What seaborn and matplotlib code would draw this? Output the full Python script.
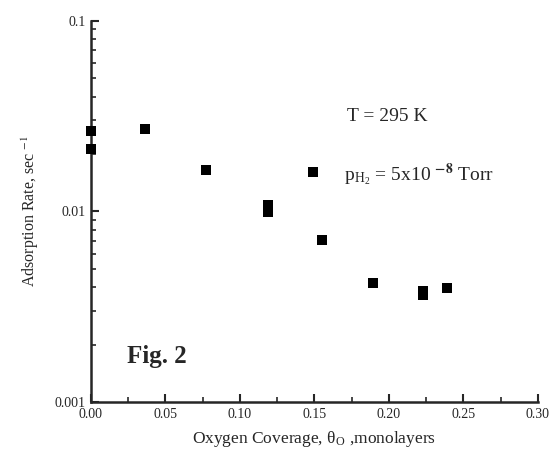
import matplotlib
matplotlib.use("Agg")
import matplotlib.pyplot as plt
import matplotlib.ticker as mticker
import seaborn as sns
import pandas as pd
import numpy as np

# --- Data ---
coverage = [0.000, 0.000, 0.036, 0.077, 0.119, 0.119, 0.149, 0.155, 0.189, 0.223, 0.223, 0.239]
rate = [0.0264, 0.0213, 0.0270, 0.0165, 0.0108, 0.0099, 0.0161, 0.00705, 0.00422, 0.0038, 0.00363, 0.00394]

x_ticks = [0.00, 0.05, 0.10, 0.15, 0.20, 0.25, 0.30]
y_ticks = [0.001, 0.01, 0.1]
y_labels = ["0.001", "0.01", "0.1"]

df = pd.DataFrame({"coverage": coverage, "rate": rate})

sns.set_style("ticks")
plt.rcParams["font.family"] = ["Liberation Serif", "DejaVu Serif"]
plt.rcParams["mathtext.fontset"] = "stix"

fig = plt.figure(figsize=(5.54, 4.53), dpi=100)
ax = fig.add_axes([0.164, 0.1126, 0.807, 0.8417])

sns.scatterplot(data=df, x="coverage", y="rate", marker="s", s=45,
                color="black", edgecolor="black", linewidth=0, ax=ax,
                clip_on=False, zorder=5)

ax.set_yscale("log")
ax.set_xlim(0, 0.30)
ax.set_ylim(0.001, 0.1)

ax.set_xticks(x_ticks)
ax.set_xticklabels([f"{v:.2f}" for v in x_ticks])
ax.xaxis.set_minor_locator(mticker.MultipleLocator(0.025))
ax.set_yticks(y_ticks)
ax.set_yticklabels(y_labels)
ax.yaxis.set_minor_locator(mticker.LogLocator(base=10, subs=np.arange(2, 10)))
ax.yaxis.set_minor_formatter(mticker.NullFormatter())

ax.tick_params(axis="both", which="major", direction="in", length=6, width=1.5,
               labelsize=10)
ax.tick_params(axis="both", which="minor", direction="in", length=3.5, width=1.2)
ax.tick_params(axis="x", pad=4)

sns.despine(ax=ax)
for sp in ["left", "bottom"]:
    ax.spines[sp].set_linewidth(1.8)

ax.set_xlabel(r"Oxygen Coverage, θ$_{\mathregular{O}}$ ,monolayers", fontsize=12.5, labelpad=6)
ax.set_ylabel(r"Adsorption Rate, sec $^{-1}$", fontsize=11.5, labelpad=10)

ax.text(0.172, 0.0314, "T = 295 K", fontsize=14, ha="left", va="center")
ax.text(0.170, 0.0156, r"p$_{\mathregular{H_2}}$ = 5x10 $^{\mathbf{-8}}$ Torr",
        fontsize=14, ha="left", va="center")
ax.text(0.024, 0.00173, "Fig. 2", fontsize=18, fontweight="bold",
        ha="left", va="center")

fig.savefig("out.png", dpi=100)
